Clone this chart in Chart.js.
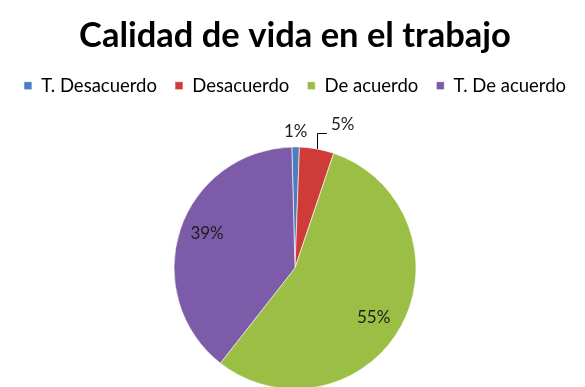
<!DOCTYPE html>
<html>
<head>
<meta charset="utf-8">
<script src="https://cdn.jsdelivr.net/npm/chart.js@4.4.1/dist/chart.umd.min.js"></script>
<style>
  html, body { margin: 0; padding: 0; background: #fff; overflow: hidden; }
  #wrap { width: 585px; height: 387px; }
</style>
</head>
<body>
<div id="wrap"><canvas id="chart" width="585" height="387"></canvas></div>
<script>
// data
const categories = ['T. Desacuerdo', 'Desacuerdo', 'De acuerdo', 'T. De acuerdo'];
const shares = [1, 4.6, 55.4, 39];
const sliceColors = ['#4A7EBE', '#CF3B39', '#9BBE45', '#7C5CA8'];

// label placement (fraction of radius, extra angle in degrees)
const labelRadius = [1.13, 1.25, 0.77, 0.78];
const labelTurn = [0, 8, 4, 3];
const withLeader = [false, true, false, false];

const FONT = 'Lato, "Open Sans", sans-serif';

// push the pie down: extra room under the legend
const legendGap = {
  id: 'legendGap',
  beforeInit(chart) {
    const fit = chart.legend.fit;
    chart.legend.fit = function () {
      fit.bind(chart.legend)();
      this.height += 44;
    };
  }
};

// draws the percent labels like Excel does
const pctLabels = {
  id: 'pctLabels',
  afterDatasetsDraw(chart) {
    const ctx = chart.ctx;
    const meta = chart.getDatasetMeta(0);
    const values = chart.data.datasets[0].data;
    const total = values.reduce((a, b) => a + b, 0);
    ctx.save();
    ctx.font = '17px ' + FONT;
    ctx.fillStyle = '#1c1c1c';
    ctx.textAlign = 'center';
    ctx.textBaseline = 'middle';
    meta.data.forEach((arc, i) => {
      const p = arc.getProps(['x', 'y', 'startAngle', 'endAngle', 'outerRadius'], true);
      const mid = (p.startAngle + p.endAngle) / 2;
      const a = mid + labelTurn[i] * Math.PI / 180;
      const lx = p.x + Math.cos(a) * p.outerRadius * labelRadius[i];
      const ly = p.y + Math.sin(a) * p.outerRadius * labelRadius[i];
      const txt = Math.round(values[i] / total * 100) + '%';
      ctx.fillText(txt, lx, ly);
      if (withLeader[i]) {
        const w = ctx.measureText(txt).width;
        const ex = p.x + Math.cos(mid) * p.outerRadius;
        const ey = p.y + Math.sin(mid) * p.outerRadius;
        const hy = Math.round(ly + 9) + 0.5;
        ctx.beginPath();
        ctx.strokeStyle = '#000';
        ctx.lineWidth = 1;
        ctx.moveTo(Math.round(ex) + 0.5, ey);
        ctx.lineTo(Math.round(ex) + 0.5, hy);
        ctx.lineTo(lx - w / 2 - 4, hy);
        ctx.stroke();
      }
    });
    ctx.restore();
  }
};

const ctx = document.getElementById('chart').getContext('2d');
const chart = new Chart(ctx, {
  type: 'pie',
  data: {
    labels: categories,
    datasets: [{
      data: shares,
      backgroundColor: sliceColors,
      borderColor: 'rgba(255,255,255,0.6)',
      borderWidth: 1,
      radius: 121,
      clip: false
    }]
  },
  options: {
    responsive: false,
    animation: false,
    rotation: -1.5,
    layout: { padding: { left: 5, right: 0, top: 0, bottom: 0 } },
    plugins: {
      title: {
        display: true,
        text: 'Calidad de vida en el trabajo',
        color: '#000',
        font: { family: FONT, size: 34.5, weight: 'bold' },
        padding: { top: 15, bottom: 2 }
      },
      legend: {
        position: 'top',
        labels: {
          color: '#000',
          font: { family: FONT, size: 18.5 },
          boxWidth: 8,
          boxHeight: 8,
          padding: 18
        }
      },
      tooltip: { enabled: false }
    }
  },
  plugins: [legendGap, pctLabels]
});
</script>
</body>
</html>
